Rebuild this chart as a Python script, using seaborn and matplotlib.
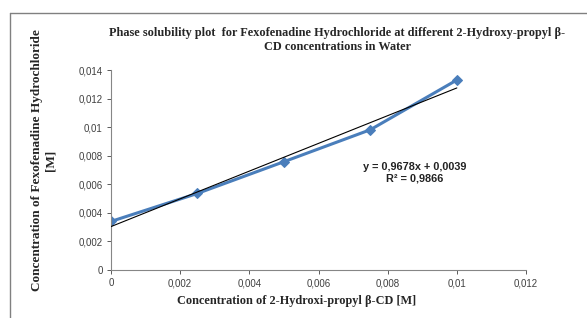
import numpy as np
import pandas as pd
import matplotlib
matplotlib.use("Agg")
import matplotlib.pyplot as plt
import seaborn as sns
from matplotlib.lines import Line2D

# Data
conc_cd = [0.0, 0.0025, 0.005, 0.0075, 0.01]
conc_fex = [0.0034, 0.00536, 0.00758, 0.00982, 0.0133]
x_ticks = [0, 0.002, 0.004, 0.006, 0.008, 0.01, 0.012]
x_tick_labels = ["0", "0,002", "0,004", "0,006", "0,008", "0,01", "0,012"]
y_ticks = [0, 0.002, 0.004, 0.006, 0.008, 0.01, 0.012, 0.014]
y_tick_labels = ["0", "0,002", "0,004", "0,006", "0,008", "0,01", "0,012", "0,014"]
title = "Phase solubility plot  for Fexofenadine Hydrochloride at different 2-Hydroxy-propyl β-\nCD concentrations in Water"
x_label = "Concentration of 2-Hydroxi-propyl β-CD [M]"
y_label = "Concentration of Fexofenadine Hydrochloride\n[M]"
eq_text = "y = 0,9678x + 0,0039\nR² = 0,9866"

df = pd.DataFrame({"x": conc_cd, "y": conc_fex})

sns.set_theme(style="white")
plt.rcParams["font.family"] = ["Liberation Sans", "DejaVu Sans"]

fig = plt.figure(figsize=(5.87, 3.18), dpi=100)
ax = fig.add_axes([111/587, 1-270/318, (526-111)/587, 200/318])

sns.lineplot(data=df, x="x", y="y", ax=ax, color="#4A7EBB", linewidth=2.2,
             marker="D", markersize=5, markeredgecolor="#4A7EBB")

# linear trend
slope, intercept = np.polyfit(conc_cd, conc_fex, 1)
xs = np.array([min(conc_cd), max(conc_cd)])
ax.plot(xs, slope*xs + intercept, color="black", linewidth=0.8, zorder=3)

ax.set_xlim(0, 0.012)
ax.set_ylim(0, 0.014)
ax.set_xticks(x_ticks)
ax.set_xticklabels(x_tick_labels)
ax.set_yticks(y_ticks)
ax.set_yticklabels(y_tick_labels)
ax.tick_params(axis="both", labelsize=7, colors="#404040", length=3, width=0.6,
               direction="out", bottom=True, left=True, pad=3)
for s in ["top", "right"]:
    ax.spines[s].set_visible(False)
for s in ["left", "bottom"]:
    ax.spines[s].set_color("#868686")
    ax.spines[s].set_linewidth(0.8)
ax.set_xlabel("")
ax.set_ylabel("")

serif = ["Liberation Serif", "DejaVu Serif"]
fig.text(337/587, 1-40/318, title, ha="center", va="center", fontsize=8.8,
         fontweight="bold", family=serif, linespacing=1.2)
fig.text(297/587, 1-301/318, x_label, ha="center", va="center", fontsize=8.8,
         fontweight="bold", family=serif)
fig.text(44/587, 1-160/318, y_label, ha="center", va="center", fontsize=9.5,
         fontweight="bold", family=serif, rotation=90, linespacing=1.2)

fig.text(415/587, 1-172.5/318, eq_text, ha="center", va="center", fontsize=7.8,
         fontweight="bold", color="#222222", linespacing=1.25)

# frame lines
fig.add_artist(Line2D([9.5/587, 1], [1-12.5/318, 1-12.5/318], color="#808080", linewidth=1, transform=fig.transFigure))
fig.add_artist(Line2D([9.5/587, 9.5/587], [0, 1-12.5/318], color="#808080", linewidth=1, transform=fig.transFigure))

fig.savefig("out.png", dpi=100)
